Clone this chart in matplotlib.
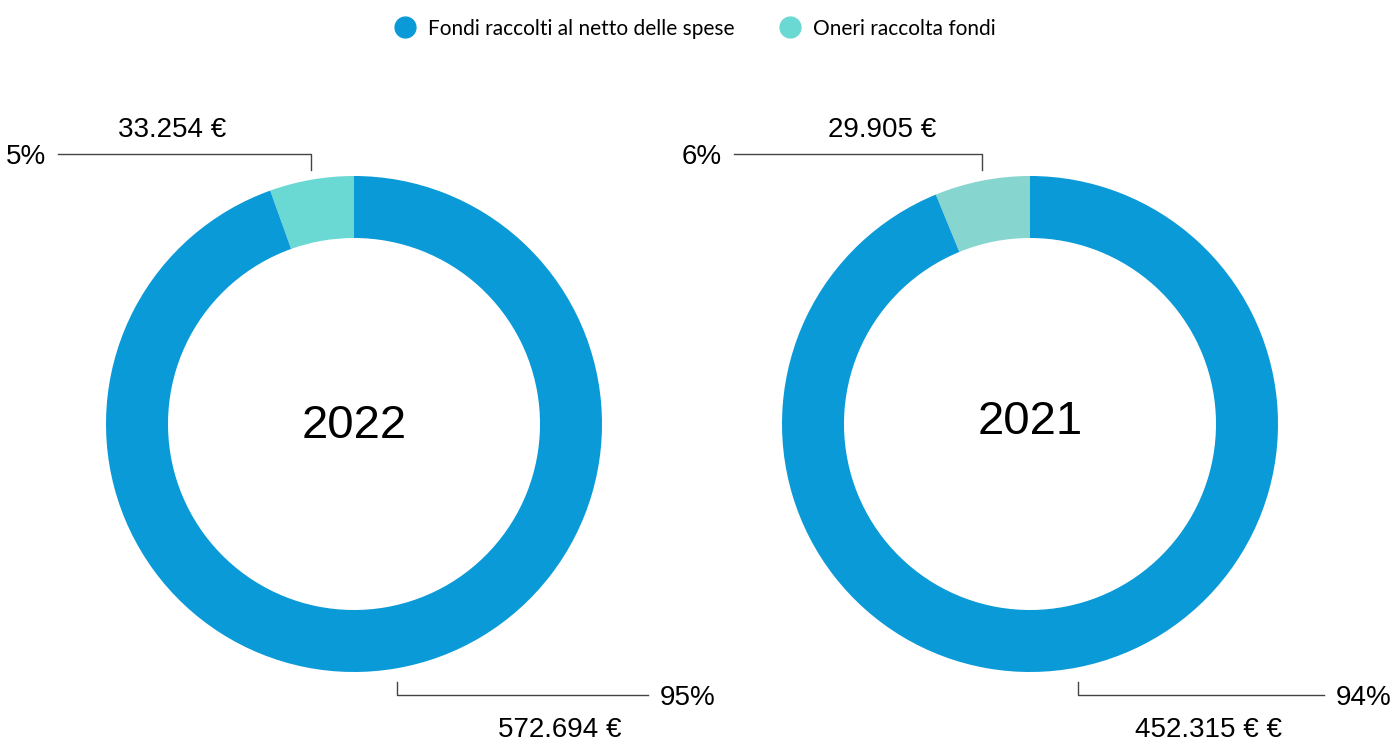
import numpy as np
import matplotlib.pyplot as plt
from matplotlib.lines import Line2D

# dati
years = ["2022", "2021"]
oneri = [33254, 29905]
fondi_netti = [572694, 452315]
pct_oneri = ["5%", "6%"]
pct_fondi = ["95%", "94%"]
label_oneri = ["33.254 €", "29.905 €"]
label_fondi = ["572.694 €", "452.315 € €"]
legend_labels = ["Fondi raccolti al netto delle spese", "Oneri raccolta fondi"]

blue = "#0A9AD7"
teal = ["#6AD9D3", "#86D5CF"]
line_col = "#444444"

W, H = 1390, 742
fig = plt.figure(figsize=(W / 100, H / 100), dpi=100)
plt.rcParams['font.family'] = ['Liberation Sans', 'DejaVu Sans']

R = 248  # raggio in pixel
L = 1.5
centers = [(354, 424), (1030, 424)]

for i in range(2):
    cx, cy = centers[i]
    ax = fig.add_axes([(cx - L * R) / W, (H - cy - L * R) / H, 2 * L * R / W, 2 * L * R / H])
    vals = [oneri[i], fondi_netti[i]]
    wedges, _ = ax.pie(vals, colors=[teal[i], blue], startangle=90, counterclock=True,
                       radius=1.0, wedgeprops=dict(width=0.25, linewidth=0))
    ax.set_xlim(-L, L)
    ax.set_ylim(-L, L)
    ax.set_aspect('equal')
    ax.axis('off')

    ax.text(0, -0.01 if i == 0 else 0.01, years[i], ha='center', va='center', fontsize=34)

    # angoli medi delle fette
    frac = oneri[i] / (oneri[i] + fondi_netti[i])
    a_top = np.deg2rad(90 + frac * 360 / 2)
    a_bot = np.deg2rad(90 + frac * 360 + (1 - frac) * 360 / 2)

    # linea in alto (oneri)
    xt = np.cos(a_top)
    ax.plot([xt, xt, -1.195], [1.024, 1.09, 1.09], color=line_col, lw=1, clip_on=False)
    ax.text(-1.242, 1.078, pct_oneri[i], ha='right', va='center', fontsize=20)
    ax.text(-0.734 if i == 0 else -0.597, 1.185, label_oneri[i], ha='center', va='center', fontsize=20)

    # linea in basso (fondi)
    xb = np.cos(a_bot)
    ax.plot([xb, xb, 1.185], [-1.04, -1.093, -1.093], color=line_col, lw=1, clip_on=False)
    ax.text(1.234, -1.103, pct_fondi[i], ha='left', va='center', fontsize=20)
    ax.text(0.831 if i == 0 else 0.718, -1.232, label_fondi[i], ha='center', va='center', fontsize=20)

handles = [Line2D([], [], marker='o', linestyle='', markersize=15, color=c)
           for c in [blue, teal[0]]]
fig.legend(handles, legend_labels, loc='upper center', bbox_to_anchor=(0.5, 1.0), ncol=2,
           frameon=False, prop=dict(family='Lato', size=15), handletextpad=0.6,
           columnspacing=2.2, handlelength=1.0)

fig.savefig("out.png", dpi=100)
